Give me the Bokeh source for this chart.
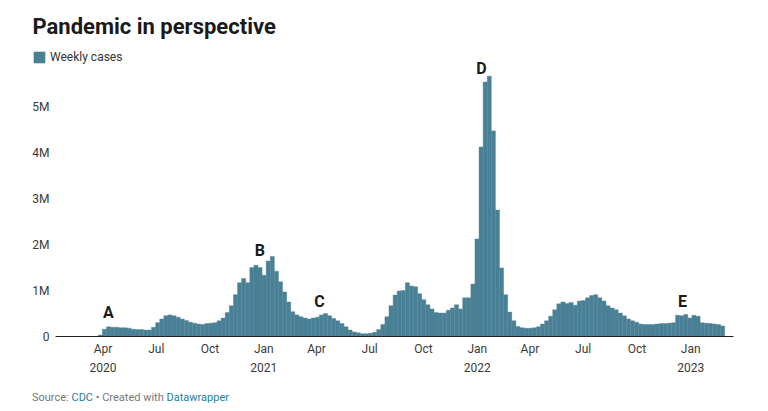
import pandas as pd
from bokeh.plotting import figure
from bokeh.layouts import column
from bokeh.models import (Range1d, FixedTicker, LinearAxis, DatetimeAxis, Div, Label,
                          LabelSet, ColumnDataSource, Legend, LegendItem, BoxAnnotation)
from bokeh.core.properties import value
from bokeh.embed import file_html
from bokeh.resources import INLINE

# ---------------- data ----------------
first_week = "2020-03-24"
# weekly cases, in millions
cases_m = [
    0.03, 0.16, 0.21, 0.20, 0.20, 0.19, 0.19, 0.18, 0.16, 0.15,
    0.15, 0.14, 0.14, 0.20, 0.30, 0.38, 0.45, 0.47, 0.45, 0.42,
    0.38, 0.35, 0.31, 0.29, 0.27, 0.26, 0.28, 0.29, 0.30, 0.34,
    0.40, 0.52, 0.67, 0.91, 1.17, 1.26, 1.17, 1.50, 1.55, 1.50,
    1.33, 1.64, 1.74, 1.42, 1.19, 0.97, 0.75, 0.54, 0.47, 0.43,
    0.40, 0.38, 0.40, 0.42, 0.47, 0.50, 0.45, 0.39, 0.34, 0.28,
    0.21, 0.14, 0.10, 0.08, 0.06, 0.06, 0.07, 0.09, 0.15, 0.26,
    0.43, 0.67, 0.90, 0.99, 1.00, 1.17, 1.10, 1.08, 0.93, 0.80,
    0.69, 0.60, 0.52, 0.51, 0.51, 0.57, 0.62, 0.69, 0.60, 0.84,
    0.84, 1.14, 2.12, 4.12, 5.53, 5.66, 4.47, 2.75, 1.49, 0.91,
    0.53, 0.34, 0.22, 0.19, 0.18, 0.18, 0.19, 0.21, 0.27, 0.34,
    0.44, 0.58, 0.71, 0.75, 0.72, 0.74, 0.68, 0.77, 0.78, 0.84,
    0.89, 0.91, 0.84, 0.77, 0.67, 0.62, 0.58, 0.51, 0.45, 0.38,
    0.34, 0.31, 0.27, 0.26, 0.26, 0.26, 0.27, 0.28, 0.28, 0.29,
    0.30, 0.46, 0.45, 0.48, 0.40, 0.46, 0.44, 0.30, 0.29, 0.28,
    0.27, 0.26, 0.23,
]

y_ticks = [0, 1_000_000, 2_000_000, 3_000_000, 4_000_000, 5_000_000]
y_tick_labels = ["0", "1M", "2M", "3M", "4M", "5M"]

x_tick_dates = ["2020-04-01", "2020-07-01", "2020-10-01", "2021-01-01",
                "2021-04-01", "2021-07-01", "2021-10-01", "2022-01-01",
                "2022-04-01", "2022-07-01", "2022-10-01", "2023-01-01"]
x_tick_labels = ["Apr\n2020", "Jul", "Oct", "Jan\n2021", "Apr", "Jul", "Oct",
                 "Jan\n2022", "Apr", "Jul", "Oct", "Jan\n2023"]

ann_text = ["A", "B", "C", "D", "E"]
ann_date = ["2020-04-10", "2020-12-25", "2021-04-06", "2022-01-08", "2022-12-18"]
ann_value_m = [0.41, 1.75, 0.65, 5.70, 0.64]

# ---------------- layout geometry (page px) ----------------
BAR = "#4a8096"
FONT = "Roboto"
F_LEFT, F_RIGHT, F_TOP, F_BOTTOM = 32, 733, 0, 336   # plot frame
PLOT_LEFT = 55                                       # where the chart body starts
PX_PER_M = 46.0
PX_PER_DAY = 213.6 / 365.25
X_JAN2020 = 49.3                                     # page x of 2020-01-01

def px_to_date(px):
    return pd.Timestamp("2020-01-01") + pd.Timedelta(days=(px - X_JAN2020) / PX_PER_DAY)

week_starts = pd.date_range(first_week, periods=len(cases_m), freq="7D")
src = ColumnDataSource(dict(
    x=week_starts + pd.Timedelta(hours=84),
    top=[v * 1_000_000 for v in cases_m],
))

W, H = 768, 385
p = figure(width=W, height=H, output_backend="svg", toolbar_location=None,
           x_axis_type=None, y_axis_type=None,
           x_range=Range1d(px_to_date(F_LEFT), px_to_date(F_RIGHT)),
           y_range=Range1d(0, (F_BOTTOM - F_TOP) / PX_PER_M * 1_000_000),
           min_border_left=F_LEFT, min_border_right=W - F_RIGHT,
           min_border_top=F_TOP, min_border_bottom=H - F_BOTTOM)
p.outline_line_color = None
p.background_fill_color = "white"
p.border_fill_color = "white"

p.xgrid.visible = False
p.ygrid.ticker = FixedTicker(ticks=y_ticks[1:])
p.ygrid.grid_line_color = "#d9d9d9"

# white mask so gridlines start where the chart body starts
p.add_layout(BoxAnnotation(left=0, right=PLOT_LEFT - F_LEFT, left_units="screen",
                           right_units="screen", fill_color="white", fill_alpha=1,
                           line_color=None, level="underlay"))

bars = p.vbar(x="x", top="top", bottom=0, width=7 * 24 * 3600 * 1000, source=src,
              fill_color=BAR, line_color=BAR, line_width=0.4)

# y axis (labels sit just left of the chart body)
yaxis = LinearAxis(ticker=FixedTicker(ticks=y_ticks))
yaxis.major_label_overrides = {t: l for t, l in zip(y_ticks, y_tick_labels)}
yaxis.axis_line_color = None
yaxis.major_tick_line_color = None
yaxis.minor_tick_line_color = None
yaxis.major_tick_out = 0
yaxis.major_tick_in = 0
yaxis.major_label_standoff = -17
yaxis.major_label_text_font = FONT
yaxis.major_label_text_font_size = "12px"
yaxis.major_label_text_color = "#3a3a3a"
p.add_layout(yaxis, "left")

# x axis
x_ms = [pd.Timestamp(d).value // 10**6 for d in x_tick_dates]
xaxis = DatetimeAxis(ticker=FixedTicker(ticks=x_ms))
xaxis.major_label_overrides = {t: l for t, l in zip(x_ms, x_tick_labels)}
xaxis.bounds = (px_to_date(PLOT_LEFT), px_to_date(F_RIGHT))
xaxis.axis_line_color = "#222222"
xaxis.axis_line_width = 1.2
xaxis.major_tick_line_color = None
xaxis.minor_tick_line_color = None
xaxis.major_tick_out = 0
xaxis.major_tick_in = 0
xaxis.major_label_standoff = 5
xaxis.major_label_text_font = FONT
xaxis.major_label_text_font_size = "12px"
xaxis.major_label_text_color = "#3a3a3a"
xaxis.major_label_text_line_height = 1.4
p.add_layout(xaxis, "below")

# annotation letters
asrc = ColumnDataSource(dict(
    x=[pd.Timestamp(d) for d in ann_date],
    y=[v * 1_000_000 for v in ann_value_m],
    t=ann_text,
))
p.add_layout(LabelSet(x="x", y="y", text="t", source=asrc, text_align="center",
                      text_baseline="alphabetic", text_font=value(FONT),
                      text_font_style="bold", text_font_size=value("16px"),
                      text_color="#1a1a1a"))

# title (screen units: x from frame left, y up from frame bottom)
p.add_layout(Label(x=32 - F_LEFT, y=F_BOTTOM - 26, x_units="screen", y_units="screen",
                   text="Pandemic in perspective", text_font=FONT,
                   text_font_style="bold", text_font_size="22px",
                   text_color="#1a1a1a", text_baseline="alphabetic"))

legend = Legend(items=[LegendItem(label="Weekly cases", renderers=[bars])],
                location=(32 - F_LEFT, F_BOTTOM - 64), orientation="horizontal",
                glyph_width=14, glyph_height=14, label_height=14,
                label_standoff=4, padding=0, margin=0, spacing=0,
                border_line_color=None, background_fill_alpha=0,
                label_text_font=FONT, label_text_font_size="12px",
                label_text_color="#333333")
p.add_layout(legend, "center")

source_div = Div(
    text='Source: <span style="color:#1d7fa3">CDC</span> \u2022 Created with '
         '<span style="color:#1d7fa3">Datawrapper</span>',
    width=700, height=20, margin=(6, 0, 0, 32),
    styles={"font-family": "Roboto", "font-size": "11px", "color": "#777777",
            "line-height": "13px"})

layout = column(p, source_div, spacing=0)
open("out.html", "w").write(file_html(layout, INLINE))
